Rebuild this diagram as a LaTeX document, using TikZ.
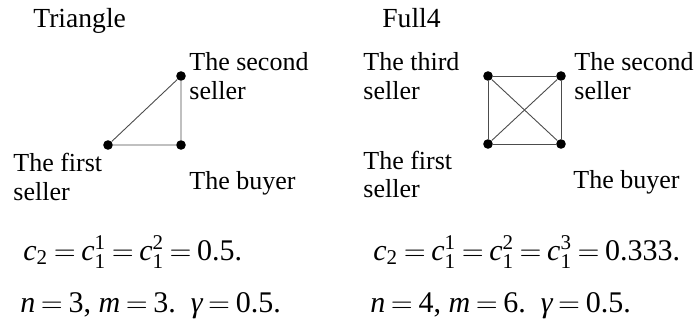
\documentclass[tikz,border=0pt]{standalone}
\usepackage{amsmath}
\usepackage{fontspec}
\setmainfont{Liberation Serif}
\newcommand{\vv}[1]{\textit{#1}}
\newcommand{\nn}[1]{\text{#1}}
\thickmuskip=3.5mu plus 2mu
\begin{document}
\begin{tikzpicture}[x=0.5pt,y=-0.5pt,
  vtx/.style={circle,fill=black,inner sep=0pt,minimum size=4.8pt},
  edge/.style={draw=black!70,line width=0.45pt},
  ttl/.style={anchor=base west,inner sep=0pt,font=\fontsize{13.8}{14.3}\selectfont},
  lbl/.style={anchor=base west,align=left,inner sep=0pt,font=\fontsize{13}{14.3}\selectfont},
  eqn/.style={anchor=base west,inner sep=0pt,font=\fontsize{15}{15}\selectfont}]
  \useasboundingbox (0,0) rectangle (698,332);
  % Triangle
  \node[ttl] (triTitle) at (33,27) {Triangle};
  \node[vtx] (tFirst) at (108,145) {};
  \node[vtx] (tSecond) at (181,76) {};
  \node[vtx] (tBuyer) at (181,145) {};
  \draw[edge] (tFirst) -- (tSecond) -- (tBuyer) -- (tFirst);
  \node[lbl] (tSecondL) at (189,99) {The second\\seller};
  \node[lbl] (tFirstL) at (13,200) {The first\\seller};
  \node[lbl] (tBuyerL) at (189,190) {The buyer};
  \node[eqn] (tCost) at (23,260) {$\vv{c}_{\nn{2}} = \vv{c}_{\nn{1}}^{\nn{1}} = \vv{c}_{\nn{1}}^{\nn{2}} = \nn{0.5.}$};
  \node[eqn] (tPar) at (20,313) {$\vv{n} = \nn{3,}\ \vv{m} = \nn{3.}\ \ \vv{γ} = \nn{0.5.}$};
  % Full4
  \node[ttl] (fullTitle) at (382,27) {Full4};
  \node[vtx] (fThird) at (488,76) {};
  \node[vtx] (fSecond) at (561,76) {};
  \node[vtx] (fFirst) at (488,144) {};
  \node[vtx] (fBuyer) at (561,144) {};
  \draw[edge] (fThird) -- (fSecond) -- (fBuyer) -- (fFirst) -- (fThird);
  \draw[edge] (fThird) -- (fBuyer);
  \draw[edge] (fFirst) -- (fSecond);
  \node[lbl] (fThirdL) at (363,99) {The third\\seller};
  \node[lbl] (fSecondL) at (574,99) {The second\\seller};
  \node[lbl] (fFirstL) at (363,198) {The first\\seller};
  \node[lbl] (fBuyerL) at (573,188) {The buyer};
  \node[eqn] (fCost) at (373,260) {$\vv{c}_{\nn{2}} = \vv{c}_{\nn{1}}^{\nn{1}} = \vv{c}_{\nn{1}}^{\nn{2}} = \vv{c}_{\nn{1}}^{\nn{3}} = \nn{0.333.}$};
  \node[eqn] (fPar) at (370,313) {$\vv{n} = \nn{4,}\ \vv{m} = \nn{6.}\ \ \vv{γ} = \nn{0.5.}$};
\end{tikzpicture}
\end{document}
